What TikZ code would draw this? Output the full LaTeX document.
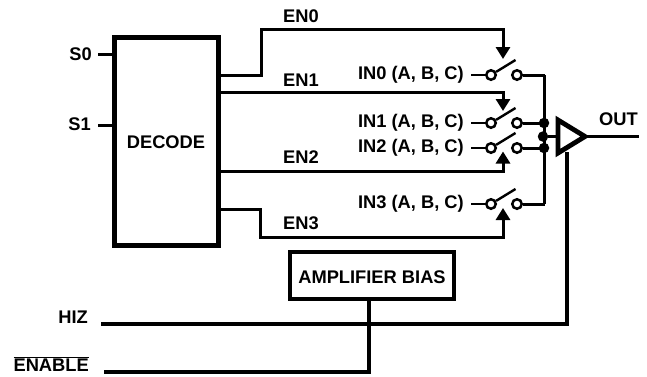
\documentclass[tikz,border=0pt]{standalone}
\usepackage{fontspec}
\setmainfont{Liberation Sans}[BoldFont={Liberation Sans Bold}]
\usetikzlibrary{arrows.meta}
\tikzset{
  lbl/.style={inner sep=0pt,font=\fontsize{18.3}{20}\selectfont\bfseries},
  wire/.style={line width=3pt,line cap=butt,line join=miter},
  heavy/.style={line width=4.2pt,line cap=butt,line join=miter},
  ctl/.style={wire,-{Triangle[length=12pt,width=14pt]}},
  pin/.style={circle,draw,line width=2.5pt,minimum size=9.5pt,inner sep=0pt,fill=white},
  dot/.style={circle,fill=black,minimum size=10.5pt,inner sep=0pt},
  blk/.style={draw,inner sep=0pt,fill=white}
}
\begin{document}
\begin{tikzpicture}[x=1pt,y=-1pt]
\useasboundingbox (0,0) rectangle (647,376);
% blocks
\node[blk,line width=5pt,minimum width=103.5pt,minimum height=208pt] (dec) at (166.5,141.5) {};
\node[lbl] (dectxt) at (166,142.5) {DECODE};
\node[blk,line width=3.6pt,minimum width=164.5pt,minimum height=47.5pt] (bias) at (372,275.5) {};
\node[lbl,anchor=base] (biastxt) at (372,283) {AMPLIFIER BIAS};
% selects
\node[lbl,anchor=base east] (s0) at (92,60) {S0};
\node[lbl,anchor=base east] (s1) at (91,130) {S1};
\coordinate (s0a) at (98,54.5); \coordinate (s1a) at (98,125.5);
\draw[wire] (s0a) -- (s0a -| dec.west);
\draw[wire] (s1a) -- (s1a -| dec.west);
% switches
\foreach \n/\y/\t in {0/75/{IN0 (A, B, C)},1/123/{IN1 (A, B, C)},2/148/{IN2 (A, B, C)},3/204/{IN3 (A, B, C)}}{
  \node[lbl,anchor=east] (in\n) at (464,\y) {\t};
  \coordinate (st\n) at (471,\y);
  \coordinate (tip\n) at (515.5,\y-15);
  \coordinate (bus\n) at (544.5,\y);
  \node[pin] (l\n) at (491,\y) {};
  \node[pin] (r\n) at (517,\y) {};
  \draw[line width=2.6pt] (st\n) -- (l\n);
  \draw[line width=2.4pt] (l\n) -- (tip\n);
  \draw[wire] (r\n) -- (bus\n);
}
% bus
\draw[wire,line cap=square] (bus0) -- (bus3);
\node[dot] (d1) at (544,123) {};
\node[dot] (d2) at (543,136.5) {};
\node[dot] (d3) at (544,148) {};
% enables
\coordinate (a0) at (503,59); \coordinate (a1) at (503,111);
\coordinate (a2) at (503,151.5); \coordinate (a3) at (503,208);
\coordinate (o0) at (dec.east |- 0,75);
\coordinate (o1) at (dec.east |- 0,92);
\coordinate (o2) at (dec.east |- 0,171.5);
\coordinate (o3) at (dec.east |- 0,209);
\draw[ctl] (o0) -- (261,75) -- (261,29.5) -- (503,29.5) -- (a0);
\draw[ctl] (o1) -- (503,92) -- (a1);
\draw[ctl] (o2) -- (503,171.5) -- (a2);
\draw[ctl] (o3) -- (260,209) -- (260,237) -- (503,237) -- (a3);
\node[lbl,anchor=base west] (en0) at (283,22) {EN0};
\node[lbl,anchor=base west] (en1) at (283,86) {EN1};
\node[lbl,anchor=base west] (en2) at (283,163) {EN2};
\node[lbl,anchor=base west] (en3) at (283,229) {EN3};
% amplifier
\coordinate (ta) at (558,120); \coordinate (tb) at (558,153); \coordinate (tc) at (585,136.5);
\coordinate (oute) at (639,136.5);
\draw[wire] (d2) -- (ta |- d2);
\draw[line width=4.8pt,line join=miter,miter limit=10] (ta) -- (tc) -- (tb) -- cycle;
\draw[line width=3.4pt] (tc) -- (oute);
\node[lbl,anchor=base west] (out) at (599,125) {OUT};
% control lines
\node[lbl,anchor=base east] (hiz) at (88,323) {HIZ};
\node[lbl,anchor=base east] (en) at (89,371) {$\overline{\mbox{ENABLE}}$};
\coordinate (h0) at (101,324); \coordinate (e0) at (104,372);
\draw[heavy] (h0) -- (567,324) -- (567,152);
\draw[heavy] (e0) -- (369,372) -- (369,297);
\end{tikzpicture}
\end{document}
